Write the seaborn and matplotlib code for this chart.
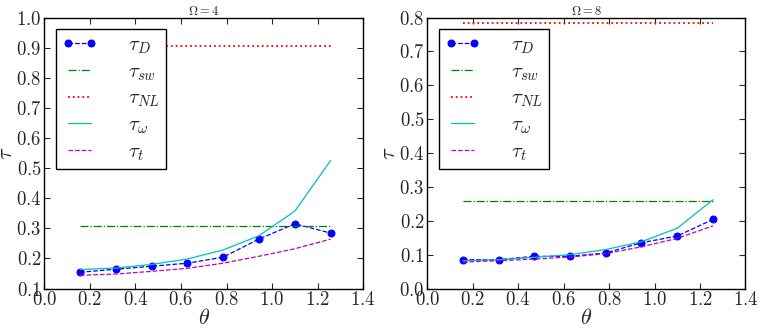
import numpy as np
import matplotlib
matplotlib.use("Agg")
import matplotlib.pyplot as plt
from matplotlib.ticker import FuncFormatter, MultipleLocator
import seaborn as sns

# theta = k*pi/20, k = 1..8
theta = [0.157, 0.314, 0.471, 0.628, 0.785, 0.942, 1.100, 1.257]

# Omega = 4
tauD_4 = [0.154, 0.164, 0.174, 0.184, 0.204, 0.264, 0.315, 0.284]
tausw_4 = [0.307, 0.307, 0.307, 0.307, 0.307, 0.307, 0.307, 0.307]
tauNL_4 = [0.905, 0.905, 0.905, 0.905, 0.905, 0.905, 0.905, 0.905]
tauw_4 = [0.163, 0.168, 0.180, 0.198, 0.228, 0.275, 0.357, 0.525]
taut_4 = [0.144, 0.148, 0.157, 0.167, 0.184, 0.207, 0.232, 0.264]

# Omega = 8
tauD_8 = [0.085, 0.085, 0.095, 0.095, 0.105, 0.135, 0.155, 0.204]
tausw_8 = [0.259, 0.259, 0.259, 0.259, 0.259, 0.259, 0.259, 0.259]
tauNL_8 = [0.784, 0.784, 0.784, 0.784, 0.784, 0.784, 0.784, 0.784]
tauw_8 = [0.082, 0.085, 0.092, 0.100, 0.115, 0.138, 0.178, 0.262]
taut_8 = [0.078, 0.082, 0.087, 0.093, 0.103, 0.123, 0.148, 0.185]

labels = [r'$\tau_D$', r'$\tau_{sw}$', r'$\tau_{NL}$', r'$\tau_\omega$', r'$\tau_t$']

sns.set_style("white", {"xtick.direction": "in", "ytick.direction": "in",
                        "xtick.top": True, "ytick.right": True,
                        "xtick.bottom": True, "ytick.left": True,
                        "axes.edgecolor": "black"})
plt.rcParams['mathtext.fontset'] = 'cm'
plt.rcParams['font.family'] = ['DejaVu Serif']
plt.rcParams['xtick.major.size'] = 4
plt.rcParams['ytick.major.size'] = 4
plt.rcParams['axes.linewidth'] = 1.0

fig = plt.figure(figsize=(7.63, 3.28), dpi=100)
ax1 = fig.add_axes([0.058, 0.1204, 0.418, 0.8262])
ax2 = fig.add_axes([0.560, 0.1204, 0.417, 0.8262])

fmt = FuncFormatter(lambda v, p: f'${v:.1f}$')


def panel(ax, tD, tsw, tNL, tw, tt, ylim, ystep, title):
    lw = 0.9
    sns.lineplot(x=theta, y=tD, ax=ax, color='b', linestyle='--', marker='o',
                 markersize=5, markeredgecolor='b', linewidth=lw, label=labels[0])
    sns.lineplot(x=theta, y=tsw, ax=ax, color='g', linestyle='-.', linewidth=lw, label=labels[1])
    sns.lineplot(x=theta, y=tNL, ax=ax, color='r', linestyle=':', linewidth=1.3, label=labels[2])
    sns.lineplot(x=theta, y=tw, ax=ax, color='c', linestyle='-', linewidth=lw, label=labels[3])
    sns.lineplot(x=theta, y=tt, ax=ax, color='m', linestyle='--', linewidth=lw, label=labels[4])
    ax.set_xlim(0.0, 1.4)
    ax.set_ylim(*ylim)
    ax.xaxis.set_major_locator(MultipleLocator(0.2))
    ax.yaxis.set_major_locator(MultipleLocator(ystep))
    ax.xaxis.set_major_formatter(fmt)
    ax.yaxis.set_major_formatter(fmt)
    ax.tick_params(labelsize=13.5, pad=2, width=0.8)
    ax.set_xlabel(r'$\theta$', fontsize=16, labelpad=-2)
    ax.set_ylabel(r'$\tau$', fontsize=16, labelpad=-1)
    ax.set_title(title, fontsize=9, pad=2)
    leg = ax.legend(loc='upper left', fontsize=15, numpoints=2, handlelength=1.7,
                    handletextpad=1.45, labelspacing=0.3, borderpad=0.3,
                    fancybox=False, framealpha=1, borderaxespad=0.55)
    leg.get_frame().set_edgecolor('black')
    leg.get_frame().set_linewidth(1.0)


panel(ax1, tauD_4, tausw_4, tauNL_4, tauw_4, taut_4, (0.1, 1.0), 0.1, r'$\Omega = 4$')
panel(ax2, tauD_8, tausw_8, tauNL_8, tauw_8, taut_8, (0.0, 0.8), 0.1, r'$\Omega = 8$')

fig.savefig('out.png', dpi=100)
